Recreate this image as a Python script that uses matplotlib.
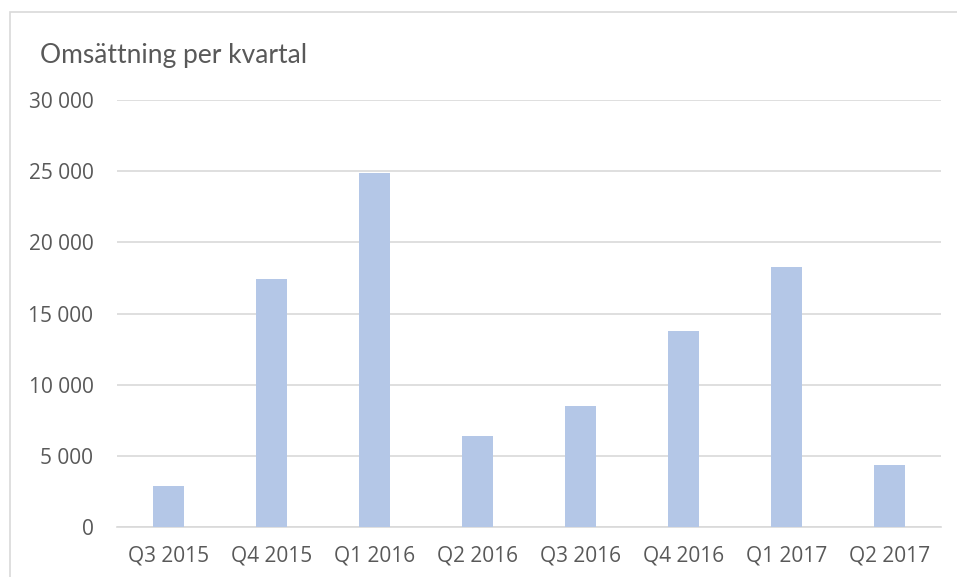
import matplotlib.pyplot as plt
from matplotlib.patches import Rectangle

quarters = ["Q3 2015", "Q4 2015", "Q1 2016", "Q2 2016",
            "Q3 2016", "Q4 2016", "Q1 2017", "Q2 2017"]
revenue = [2850, 17400, 24900, 6400, 8500, 13800, 18300, 4350]
yticks = [0, 5000, 10000, 15000, 20000, 25000, 30000]

fig = plt.figure(figsize=(9.57, 5.77), dpi=100)
ax = fig.add_axes([117 / 957, 1 - 527 / 577, 824 / 957, 427 / 577])

x = range(len(quarters))
ax.bar(x, revenue, width=0.31, color="#b4c7e7", zorder=3)

ax.set_xlim(-0.5, len(quarters) - 0.5)
ax.set_ylim(0, 30000)
ax.set_yticks(yticks)
ax.set_yticklabels([f"{v:,}".replace(",", " ") for v in yticks])
ax.set_xticks(list(x))
ax.set_xticklabels(quarters)

ax.yaxis.grid(True, color="#d9d9d9", lw=1.2, zorder=0)
ax.tick_params(length=0, labelsize=15, labelcolor="#595959")
ax.tick_params(axis="y", pad=17)
ax.tick_params(axis="x", pad=13)
for lab in ax.get_xticklabels() + ax.get_yticklabels():
    lab.set_family("Open Sans")
for s in ["top", "right", "left"]:
    ax.spines[s].set_visible(False)
ax.spines["bottom"].set_color("#d9d9d9")
ax.spines["bottom"].set_linewidth(1.2)

fig.text(40 / 957, 1 - 55 / 577, "Omsättning per kvartal", fontsize=19,
         color="#595959", family="Lato", va="center", ha="left")

# chart frame (cut off at right and bottom)
fig.patches.append(Rectangle((10 / 957, -0.1), 1.2, 1.1 - 12 / 577,
                             transform=fig.transFigure, fill=False,
                             edgecolor="#d9d9d9", lw=1.2))

fig.savefig("out.png", dpi=100)
